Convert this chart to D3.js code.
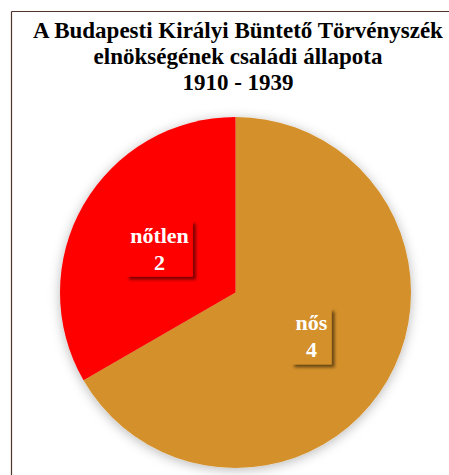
<!DOCTYPE html>
<html><head><meta charset="utf-8">
<script src="https://cdn.jsdelivr.net/npm/d3@7"></script>
<style>html,body{margin:0;padding:0;background:#fff;}svg{display:block;}</style>
</head><body>
<script>
const categories = ["nős", "nőtlen"];
const values = [4, 2];
const colors = ["#D4902A", "#FF0000"];
const titleLines = ["A Budapesti Királyi Büntető Törvényszék", "elnökségének családi állapota", "1910 - 1939"];

const W = 449, H = 475;
const svg = d3.select("body").append("svg").attr("width", W).attr("height", H);
const defs = svg.append("defs");
const f = defs.append("filter").attr("id", "glow").attr("x", "-20%").attr("y", "-20%").attr("width", "140%").attr("height", "140%");
f.append("feDropShadow").attr("dx", 0).attr("dy", 2).attr("stdDeviation", 6).attr("flood-color", "#000").attr("flood-opacity", 0.28);
const f2 = defs.append("filter").attr("id", "boxsh").attr("x", "-30%").attr("y", "-30%").attr("width", "160%").attr("height", "160%");
f2.append("feDropShadow").attr("dx", 3).attr("dy", 3).attr("stdDeviation", 1.6).attr("flood-color", "#000").attr("flood-opacity", 0.5);

// frame
svg.append("line").attr("x1", 11.5).attr("x2", W).attr("y1", 11.5).attr("y2", 11.5).attr("stroke", "#4f342c").attr("stroke-width", 1.2);
svg.append("line").attr("x1", 11.5).attr("x2", 11.5).attr("y1", 11.5).attr("y2", H).attr("stroke", "#4f342c").attr("stroke-width", 1.2);

// title
const title = svg.append("text").attr("text-anchor", "middle")
  .attr("font-family", "'Liberation Serif','Times New Roman',serif").attr("font-weight", "bold").attr("font-size", 23).attr("fill", "#000");
titleLines.forEach((t, i) => title.append("tspan").attr("x", 238).attr("y", 38 + i * 26).text(t));

const cx = 235.5, cy = 292.5, r = 175.5;
const g = svg.append("g").attr("transform", `translate(${cx},${cy})`);
const pie = d3.pie().sort(null).value(d => d.v);
const data = pie(categories.map((c, i) => ({c, v: values[i], col: colors[i]})));
const arc = d3.arc().innerRadius(0).outerRadius(r);

const pg = g.append("g").attr("filter", "url(#glow)");
pg.selectAll("path").data(data).enter().append("path")
  .attr("d", arc).attr("fill", d => d.data.col);

data.forEach(d => {
  const [lx, ly] = arc.centroid(d);
  const lg = g.append("g").attr("transform", `translate(${lx},${ly})`);
  const t = lg.append("text").attr("text-anchor", "middle")
    .attr("font-family", "'Liberation Serif','Times New Roman',serif").attr("font-weight", "bold").attr("font-size", 22).attr("fill", "#fff");
  t.append("tspan").attr("x", 0).attr("y", -6).text(d.data.c);
  t.append("tspan").attr("x", 0).attr("y", 21).text(d.data.v);
  const bb = t.node().getBBox();
  const padX = 4, w = bb.width + 2 * padX;
  lg.insert("rect", "text").attr("x", -w / 2).attr("y", -28).attr("width", w).attr("height", 56)
    .attr("fill", d.data.col).attr("filter", "url(#boxsh)");
});
</script>
</body></html>
